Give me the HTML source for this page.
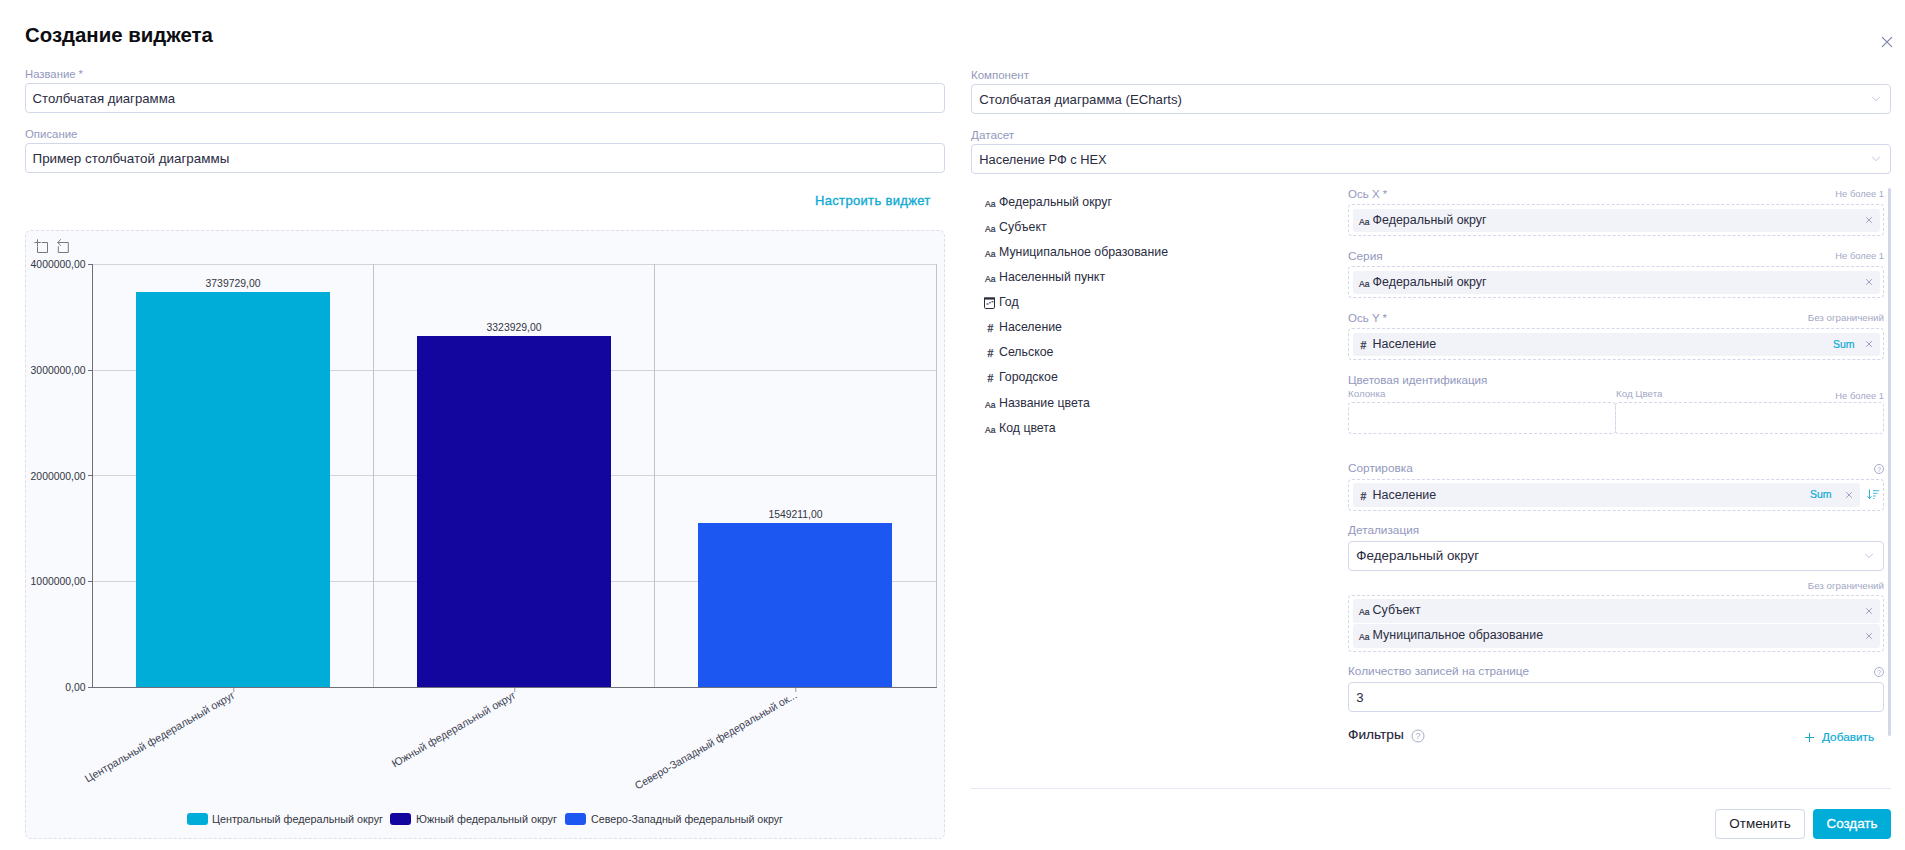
<!DOCTYPE html>
<html lang="ru">
<head>
<meta charset="utf-8">
<title>Создание виджета</title>
<style>
*{box-sizing:border-box;margin:0;padding:0}
html,body{width:1905px;height:850px;overflow:hidden;background:#fff}
body{font-family:"Liberation Sans",Arial,sans-serif;color:#2a2c3f;position:relative;font-size:13.2px}
.abs{position:absolute;white-space:nowrap}
.title{left:25px;top:22px;font-size:20.4px;font-weight:bold;color:#0d0d12;line-height:26px}
.lbl{font-size:11.5px;color:#9298bd;line-height:14px}
.lbl2{font-size:11.8px;color:#9298bd;line-height:14px}
.hint{font-size:9.75px;color:#a3a8c6;line-height:12px;text-align:right}
.inp{border:1px solid #d3d7ea;border-radius:4px;height:30px;background:#fff;line-height:29px;padding-left:6.5px;font-size:13.2px;color:#2a2c3f}
.link{color:#0eaad3;font-size:13px;line-height:16px;letter-spacing:.33px;-webkit-text-stroke:.35px #0eaad3}
.chartbox{left:25px;top:230px;width:920px;height:609px;border:1px dashed #dcdfe8;border-radius:6px;background:#f9fafe}
.fld{font-size:12.33px;line-height:16px;color:#2a2c3f}
.drop{border:1px dashed #d3d7ea;border-radius:4px}
.chip{background:#f2f3f9;border-radius:3px}
.ico{font-size:9.7px;line-height:11px;color:#2a2c3f;-webkit-text-stroke:.2px #2a2c3f;transform:scaleX(.88);transform-origin:0 50%}
.hsh{font-size:10.4px;line-height:11px;color:#2a2c3f;-webkit-text-stroke:.25px #2a2c3f}
.sum{font-size:10.5px;line-height:12px;color:#0eaad3;-webkit-text-stroke:.2px #0eaad3}
.btn{height:30px;border-radius:4px;font-size:14px;line-height:28px;text-align:center}
</style>
</head>
<body>
<div class="abs title">Создание виджета</div>
<div class="abs lbl" style="left:25px;top:67px;font-size:11.3px">Название *</div>
<div class="abs inp" style="left:25px;top:83px;width:920px">Столбчатая диаграмма</div>
<div class="abs lbl" style="left:25px;top:127px;font-size:11.4px">Описание</div>
<div class="abs inp" style="left:25px;top:143px;width:920px;font-size:13.42px">Пример столбчатой диаграммы</div>
<div class="abs link" style="left:815px;top:192.6px">Настроить виджет</div>
<div class="abs chartbox"></div>
<svg class="abs" style="left:0;top:0" width="960" height="850" viewBox="0 0 960 850" font-family="Liberation Sans, Arial, sans-serif">
<!-- toolbox -->
<g fill="none" stroke="#78787c" stroke-width="1" stroke-linecap="round" stroke-linejoin="round">
<path d="M34.8 242.5H40.4M37.5 239.7V245.8M42.1 242.5H47.5V252.5H37.5V246.8"/>
<path d="M60.6 239.5L57.8 242.5L60.6 245.5M58 242.5H68.3V252.5H58.3V246.6"/>
</g>
<!-- grid -->
<g stroke="#d2d4dc" stroke-width="1" shape-rendering="crispEdges">
<path d="M92 264.5H937M92 370.5H937M92 475.5H937M92 581.5H937"/>
</g>
<g stroke="#c2c4cc" stroke-width="1" shape-rendering="crispEdges">
<path d="M373.5 264V687M654.5 264V687M936.5 264V687"/>
</g>
<!-- bars -->
<rect x="136" y="292" width="194" height="395" fill="#00add8"/>
<rect x="417" y="336" width="194" height="351" fill="#12069e"/>
<rect x="698" y="523" width="194" height="164" fill="#1b57f0"/>
<!-- axes -->
<g stroke="#6e7079" stroke-width="1" shape-rendering="crispEdges">
<path d="M92.5 264V688M88 687.5H937"/>
<path d="M88 264.5H92M88 370.5H92M88 475.5H92M88 581.5H92"/>

</g>
<path d="M233.8 688V692M514.8 688V692M795.8 688V692" stroke="#6e7079" stroke-opacity=".7" stroke-width="1"/>
<!-- y labels -->
<g font-size="10.4" fill="#33353f" text-anchor="end">
<text x="85.5" y="268.2">4000000,00</text>
<text x="85.5" y="374.2">3000000,00</text>
<text x="85.5" y="480.2">2000000,00</text>
<text x="85.5" y="585.2">1000000,00</text>
<text x="85.5" y="691.2">0,00</text>
</g>
<!-- bar labels -->
<g font-size="10.4" fill="#33353f" text-anchor="middle">
<text x="233" y="287">3739729,00</text>
<text x="514" y="331">3323929,00</text>
<text x="795.5" y="518">1549211,00</text>
</g>
<!-- x labels -->
<g font-size="10.8" fill="#3f4454" text-anchor="end">
<text x="233.9" y="694.2" dy="3.6" transform="rotate(-30 233.9 694.2)" textLength="171" lengthAdjust="spacingAndGlyphs">Центральный федеральный округ</text>
<text x="514.9" y="694.2" dy="3.6" transform="rotate(-30 514.9 694.2)" textLength="141" lengthAdjust="spacingAndGlyphs">Южный федеральный округ</text>
<text x="795.9" y="694.2" dy="3.6" transform="rotate(-30 795.9 694.2)" textLength="185" lengthAdjust="spacingAndGlyphs">Северо-Западный федеральный ок...</text>
</g>
<!-- legend -->
<rect x="187" y="813" width="21" height="12" rx="3" fill="#00add8"/>
<rect x="390" y="813" width="21" height="12" rx="3" fill="#12069e"/>
<rect x="565" y="813" width="21" height="12" rx="3" fill="#1b57f0"/>
<g font-size="10.8" fill="#33353f">
<text x="212" y="823.4" textLength="171" lengthAdjust="spacingAndGlyphs">Центральный федеральный округ</text>
<text x="416" y="823.4" textLength="141" lengthAdjust="spacingAndGlyphs">Южный федеральный округ</text>
<text x="591" y="823.4" textLength="192" lengthAdjust="spacingAndGlyphs">Северо-Западный федеральный округ</text>
</g>
</svg>
<svg class="abs" style="left:1880.6px;top:35.7px" width="12" height="12" viewBox="0 0 12 12"><path d="M1.2999999999999998 1.2999999999999998L10.7 10.7M10.7 1.2999999999999998L1.2999999999999998 10.7" fill="none" stroke="#7c83a6" stroke-width="1.2" stroke-linecap="round"/></svg>
<div class="abs lbl" style="left:971px;top:68px">Компонент</div>
<div class="abs inp" style="left:971px;top:84px;width:920px;padding-left:7.3px">Столбчатая диаграмма (ECharts)</div>
<svg class="abs" style="left:1871px;top:96px" width="10" height="6" viewBox="0 0 10 6"><path d="M1.5 1.2L5 4.7L8.5 1.2" fill="none" stroke="#bfc4da" stroke-width="1" stroke-linecap="round" stroke-linejoin="round"/></svg>
<div class="abs lbl" style="left:971px;top:128px;font-size:11.7px">Датасет</div>
<div class="abs inp" style="left:971px;top:144px;width:920px;padding-left:7.3px;font-size:12.85px">Население РФ с HEX</div>
<svg class="abs" style="left:1871px;top:156px" width="10" height="6" viewBox="0 0 10 6"><path d="M1.5 1.2L5 4.7L8.5 1.2" fill="none" stroke="#bfc4da" stroke-width="1" stroke-linecap="round" stroke-linejoin="round"/></svg>
<div class="abs ico" style="left:985px;top:198px">Aa</div>
<div class="abs fld" style="left:999px;top:194px">Федеральный округ</div>
<div class="abs ico" style="left:985px;top:223px">Aa</div>
<div class="abs fld" style="left:999px;top:219px">Субъект</div>
<div class="abs ico" style="left:985px;top:248px">Aa</div>
<div class="abs fld" style="left:999px;top:244px">Муниципальное образование</div>
<div class="abs ico" style="left:985px;top:273px">Aa</div>
<div class="abs fld" style="left:999px;top:269px">Населенный пункт</div>
<svg class="abs" style="left:984.2px;top:297px" width="11" height="12" viewBox="0 0 11 12"><path d="M0.5 1.2H10.5V10.2Q10.5 11.5 9.2 11.5H1.8Q0.5 11.5 0.5 10.2Z" fill="none" stroke="#2a2c3f" stroke-width="1"/><path d="M0 1.5H11" stroke="#2a2c3f" stroke-width="2.2"/><path d="M2.4 7H4.6M5 5.8H6.8M7.4 4.7H9.6" stroke="#2a2c3f" stroke-width="1.1"/></svg>
<div class="abs fld" style="left:999px;top:294px">Год</div>
<div class="abs hsh" style="left:987.6px;top:323px">#</div>
<div class="abs fld" style="left:999px;top:319px">Население</div>
<div class="abs hsh" style="left:987.6px;top:348px">#</div>
<div class="abs fld" style="left:999px;top:344px">Сельское</div>
<div class="abs hsh" style="left:987.6px;top:373px">#</div>
<div class="abs fld" style="left:999px;top:369px">Городское</div>
<div class="abs ico" style="left:985px;top:399px">Aa</div>
<div class="abs fld" style="left:999px;top:395px">Название цвета</div>
<div class="abs ico" style="left:985px;top:424px">Aa</div>
<div class="abs fld" style="left:999px;top:420px">Код цвета</div>
<div class="abs lbl2" style="left:1348px;top:187px;font-size:11.5px">Ось X *</div>
<div class="abs hint" style="right:21px;top:188px;font-size:9.4px">Не более 1</div>
<div class="abs drop" style="left:1348px;top:204px;width:536px;height:32px"></div>
<div class="abs chip" style="left:1353px;top:209px;width:527px;height:23px"></div>
<div class="abs ico" style="left:1359px;top:216px">Aa</div>
<div class="abs fld" style="left:1372.6px;font-size:12.45px;top:212px">Федеральный округ</div>
<svg class="abs" style="left:1862.8px;top:214.2px" width="12" height="12" viewBox="0 0 12 12"><path d="M3.5 3.5L8.5 8.5M8.5 3.5L3.5 8.5" fill="none" stroke="#9da2be" stroke-width="1" stroke-linecap="round"/></svg>
<div class="abs lbl2" style="left:1348px;top:249px">Серия</div>
<div class="abs hint" style="right:21px;top:250px;font-size:9.4px">Не более 1</div>
<div class="abs drop" style="left:1348px;top:266px;width:536px;height:32px"></div>
<div class="abs chip" style="left:1353px;top:271px;width:527px;height:23px"></div>
<div class="abs ico" style="left:1359px;top:278px">Aa</div>
<div class="abs fld" style="left:1372.6px;font-size:12.45px;top:274px">Федеральный округ</div>
<svg class="abs" style="left:1862.8px;top:276.2px" width="12" height="12" viewBox="0 0 12 12"><path d="M3.5 3.5L8.5 8.5M8.5 3.5L3.5 8.5" fill="none" stroke="#9da2be" stroke-width="1" stroke-linecap="round"/></svg>
<div class="abs lbl2" style="left:1348px;top:311px;font-size:11.5px">Ось Y *</div>
<div class="abs hint" style="right:21px;top:312px">Без ограничений</div>
<div class="abs drop" style="left:1348px;top:328px;width:536px;height:32px"></div>
<div class="abs chip" style="left:1353px;top:333px;width:527px;height:23px"></div>
<div class="abs hsh" style="left:1360.6px;top:340px">#</div>
<div class="abs fld" style="left:1372.6px;font-size:12.45px;top:336px">Население</div>
<div class="abs sum" style="left:1833px;top:337.8px">Sum</div>
<svg class="abs" style="left:1862.8px;top:338.2px" width="12" height="12" viewBox="0 0 12 12"><path d="M3.5 3.5L8.5 8.5M8.5 3.5L3.5 8.5" fill="none" stroke="#9da2be" stroke-width="1" stroke-linecap="round"/></svg>
<div class="abs lbl2" style="left:1348px;top:373px;font-size:11.6px">Цветовая идентификация</div>
<div class="abs hint" style="left:1348px;top:388px;text-align:left">Колонка</div>
<div class="abs hint" style="left:1616px;top:388px;text-align:left">Код Цвета</div>
<div class="abs hint" style="right:21px;top:390px;font-size:9.4px">Не более 1</div>
<div class="abs drop" style="left:1348px;top:402px;width:268px;height:32px"></div>
<div class="abs drop" style="left:1615px;top:402px;width:269px;height:32px"></div>
<div class="abs lbl2" style="left:1348px;top:461px">Сортировка</div>
<svg class="abs" style="left:1870.5px;top:460.5px" width="16" height="16" viewBox="0 0 16 16"><circle cx="8" cy="8" r="4.5" fill="none" stroke="#a8adca" stroke-width="1"/><text x="8" y="10.7" font-size="7.5" text-anchor="middle" fill="#a8adca" font-family="Liberation Sans, Arial, sans-serif">?</text></svg>
<div class="abs drop" style="left:1348px;top:479px;width:536px;height:32px"></div>
<div class="abs chip" style="left:1353px;top:483px;width:507px;height:24px"></div>
<div class="abs hsh" style="left:1360.6px;top:490.5px">#</div>
<div class="abs fld" style="left:1372.6px;font-size:12.45px;top:486.5px">Население</div>
<div class="abs sum" style="left:1810px;top:488.3px">Sum</div>
<svg class="abs" style="left:1842.8px;top:488.7px" width="12" height="12" viewBox="0 0 12 12"><path d="M3.5 3.5L8.5 8.5M8.5 3.5L3.5 8.5" fill="none" stroke="#9da2be" stroke-width="1" stroke-linecap="round"/></svg>
<svg class="abs" style="left:1866px;top:488px" width="14" height="14" viewBox="0 0 14 14"><path d="M3.5 2V10.3M1.7 8.6L3.5 10.5L5.3 8.6" fill="none" stroke="#16a9d1" stroke-width="0.9" stroke-linecap="round" stroke-linejoin="round"/><path d="M7 2.7H13.3M7 5.3H11.6M7 8H9.8M7 10.5H8.4" fill="none" stroke="#16a9d1" stroke-width="0.8"/></svg>
<div class="abs lbl2" style="left:1348px;top:523px">Детализация</div>
<div class="abs inp" style="left:1348px;top:541px;width:536px;font-size:13.42px;padding-left:7.3px;line-height:28.4px">Федеральный округ</div>
<svg class="abs" style="left:1864px;top:553px" width="10" height="6" viewBox="0 0 10 6"><path d="M1.5 1.2L5 4.7L8.5 1.2" fill="none" stroke="#bfc4da" stroke-width="1" stroke-linecap="round" stroke-linejoin="round"/></svg>
<div class="abs hint" style="right:21px;top:580px">Без ограничений</div>
<div class="abs drop" style="left:1348px;top:595px;width:536px;height:57px"></div>
<div class="abs chip" style="left:1353px;top:599px;width:527px;height:24px"></div>
<div class="abs ico" style="left:1359px;top:606px">Aa</div>
<div class="abs fld" style="left:1372.6px;font-size:12.45px;top:602px">Субъект</div>
<svg class="abs" style="left:1862.8px;top:604.7px" width="12" height="12" viewBox="0 0 12 12"><path d="M3.5 3.5L8.5 8.5M8.5 3.5L3.5 8.5" fill="none" stroke="#9da2be" stroke-width="1" stroke-linecap="round"/></svg>
<div class="abs chip" style="left:1353px;top:624px;width:527px;height:24px"></div>
<div class="abs ico" style="left:1359px;top:631px">Aa</div>
<div class="abs fld" style="left:1372.6px;font-size:12.45px;top:627px">Муниципальное образование</div>
<svg class="abs" style="left:1862.8px;top:629.7px" width="12" height="12" viewBox="0 0 12 12"><path d="M3.5 3.5L8.5 8.5M8.5 3.5L3.5 8.5" fill="none" stroke="#9da2be" stroke-width="1" stroke-linecap="round"/></svg>
<div class="abs lbl2" style="left:1348px;top:664px">Количество записей на странице</div>
<svg class="abs" style="left:1870.5px;top:663.5px" width="16" height="16" viewBox="0 0 16 16"><circle cx="8" cy="8" r="4.5" fill="none" stroke="#a8adca" stroke-width="1"/><text x="8" y="10.7" font-size="7.5" text-anchor="middle" fill="#a8adca" font-family="Liberation Sans, Arial, sans-serif">?</text></svg>
<div class="abs inp" style="left:1348px;top:682px;width:536px;padding-left:7.3px">3</div>
<div class="abs" style="left:1348px;top:727px;font-size:13.7px;line-height:16px;color:#23243a;-webkit-text-stroke:.12px #23243a">Фильтры</div>
<svg class="abs" style="left:1409.5px;top:727.5px" width="16" height="16" viewBox="0 0 16 16"><circle cx="8" cy="8" r="6" fill="none" stroke="#a8adca" stroke-width="1"/><text x="8" y="11.2" font-size="9" text-anchor="middle" fill="#a8adca" font-family="Liberation Sans, Arial, sans-serif">?</text></svg>
<svg class="abs" style="left:1804px;top:732px" width="11" height="11" viewBox="0 0 11 11"><path d="M5.5 1.3V9.7M1.3 5.5H9.7" stroke="#16a9d1" stroke-width="1" stroke-linecap="round"/></svg>
<div class="abs" style="left:1822px;top:730px;font-size:11.8px;line-height:14px;color:#0eaad3;-webkit-text-stroke:.2px #0eaad3">Добавить</div>
<div class="abs" style="left:1888px;top:188px;width:3px;height:548px;background:#d4d7e8;border-radius:2px"></div>
<div class="abs" style="left:971px;top:788px;width:920px;height:1px;background:#e6e8f2"></div>
<div class="abs btn" style="left:1715px;top:809px;width:90px;border:1px solid #d3d7ea;background:#fff;color:#1a1b2a;font-size:13.45px;line-height:27.4px">Отменить</div>
<div class="abs btn" style="left:1813px;top:809px;width:78px;background:#00add8;color:#fff;font-size:13.4px;line-height:29.4px;-webkit-text-stroke:.3px #fff">Создать</div>
</body>
</html>
